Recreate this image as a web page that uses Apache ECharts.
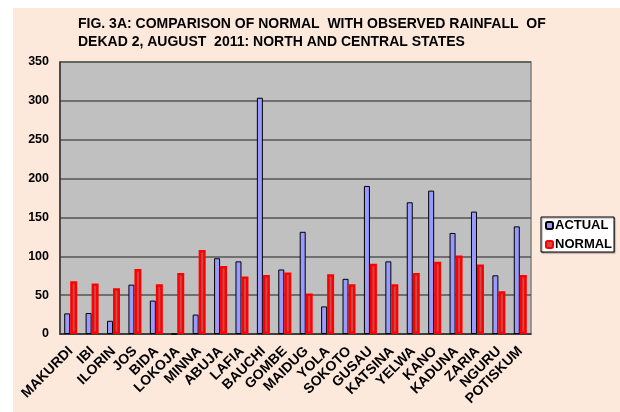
<!DOCTYPE html>
<html>
<head>
<meta charset="utf-8">
<script src="https://cdn.jsdelivr.net/npm/echarts@6/dist/echarts.min.js"></script>
<style>
html,body{margin:0;padding:0;background:#fff;width:620px;height:412px;overflow:hidden;}
#c{position:absolute;left:13px;top:8px;width:607px;height:404px;background:#fde9dc;}
</style>
</head>
<body>
<div id="c"></div>
<script>
const stations = ['MAKURDI','IBI','ILORIN','JOS','BIDA','LOKOJA','MINNA','ABUJA','LAFIA','BAUCHI','GOMBE','MAIDUG','YOLA','SOKOTO','GUSAU','KATSINA','YELWA','KANO','KADUNA','ZARIA','NGURU','POTISKUM'];
const actual = [26.5,27,17,63.5,43,0,25,97.5,93.5,304,83,131.5,35.5,71,190.5,93.5,169.5,184.5,130,157.5,75.5,138.5];
const normal = [68,65,59,83.5,64,78.5,108,87.5,74,76,79,52,77,64,90.5,64,78.5,93,101,89.5,55,76];
const yTicks = [0,50,100,150,200,250,300,350];
const titleText = 'FIG. 3A: COMPARISON OF NORMAL  WITH OBSERVED RAINFALL  OF\nDEKAD 2, AUGUST  2011: NORTH AND CENTRAL STATES';

const chart = echarts.init(document.getElementById('c'));
chart.setOption({
  animation:false,
  title:{text:titleText,left:60,top:2,textStyle:{fontFamily:'Liberation Sans, Arial',fontWeight:'bold',fontSize:14,color:'#000',lineHeight:18}},
  grid:{left:47,top:54,right:89,bottom:78,show:true,backgroundColor:'#c0c0c0',borderColor:'#808080',borderWidth:1.5},
  legend:{orient:'vertical',left:528,top:209,data:['ACTUAL','NORMAL'],backgroundColor:'#fff',borderColor:'#000',borderWidth:1,padding:[2,2,1,4],itemGap:6,itemWidth:7,itemHeight:7,
    shadowColor:'rgba(0,0,0,0.4)',shadowOffsetX:1,shadowOffsetY:1,shadowBlur:1,
    textStyle:{fontFamily:'Liberation Sans, Arial',fontWeight:'bold',fontSize:13,color:'#000',padding:[0,0,0,-3]}},
  xAxis:{type:'category',data:stations,
    axisLine:{lineStyle:{color:'#333',width:1.5}},axisTick:{show:false},
    axisLabel:{rotate:45,interval:0,margin:15,fontFamily:'Liberation Sans, Arial',fontWeight:'bold',fontSize:14,color:'#000'}},
  yAxis:{type:'value',min:0,max:350,interval:50,
    axisLine:{show:true,lineStyle:{color:'#333',width:1.5}},axisTick:{show:false},
    splitLine:{lineStyle:{color:'#555',width:1.5}},
    axisLabel:{margin:11,fontFamily:'Liberation Sans, Arial',fontWeight:'bold',fontSize:12.5,color:'#000',
      formatter:v=>yTicks.includes(v)?String(v):''}},
  series:[
    {name:'ACTUAL',type:'bar',data:actual,barWidth:6,barGap:'0%',
      itemStyle:{color:'#9999ff',borderColor:'#000',borderWidth:1}},
    {name:'NORMAL',type:'bar',data:normal,barWidth:7,
      itemStyle:{color:'#c84a4a',borderColor:'#ff0000',borderWidth:2.5}}
  ]
});
</script>
</body>
</html>
